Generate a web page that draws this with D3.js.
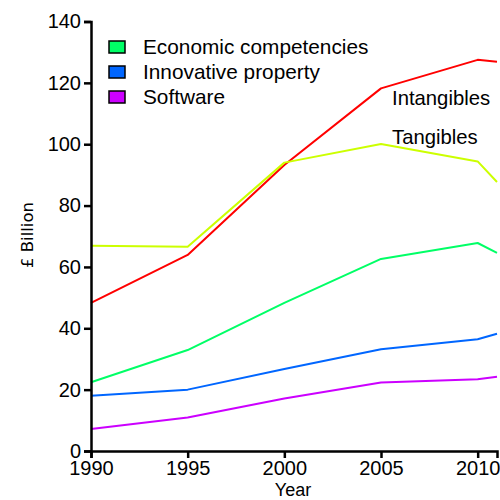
<!DOCTYPE html>
<html>
<head>
<meta charset="utf-8">
<script src="https://cdn.jsdelivr.net/npm/d3@7"></script>
<style>
  html, body { margin: 0; padding: 0; background: #fff; }
  text { font-family: "Liberation Sans", Arial, sans-serif; fill: #000; }
</style>
</head>
<body>
<svg id="chart" width="500" height="500"></svg>
<script>
const years = [1990, 1995, 2000, 2005, 2010, 2011];
const intangibles = [48.3, 63.9, 93.2, 118.2, 127.5, 126.9];
const tangibles = [66.9, 66.6, 94.0, 100.1, 94.4, 87.7];
const economic = [22.4, 32.9, 48.3, 62.6, 67.8, 64.6];
const innovative = [18.0, 20.0, 26.7, 33.2, 36.4, 38.2];
const software = [7.2, 10.9, 17.1, 22.3, 23.4, 24.2];
const xTicks = [1990, 1995, 2000, 2005, 2010];
const yTicks = [0, 20, 40, 60, 80, 100, 120, 140];
const legendNames = ["Economic competencies", "Innovative property", "Software"];

const series = [
  { name: "Intangibles", values: intangibles, color: "#ff0000" },
  { name: "Tangibles", values: tangibles, color: "#ccff00" },
  { name: "Economic competencies", values: economic, color: "#00ff66" },
  { name: "Innovative property", values: innovative, color: "#0066ff" },
  { name: "Software", values: software, color: "#cc00ff" }
];

const svg = d3.select("#chart");
const x = d3.scaleLinear().domain([1990, 2011]).range([91, 497]);
const y = d3.scaleLinear().domain([0, 140]).range([451, 21.5]);

const line = d3.line().x((d, i) => x(years[i])).y(d => y(d));

svg.append("g").selectAll("path").data(series).join("path")
  .attr("d", d => line(d.values))
  .attr("fill", "none")
  .attr("stroke", d => d.color)
  .attr("stroke-width", 2)
  .attr("stroke-linejoin", "round");

// Axes
const yAxis = svg.append("g").attr("transform", `translate(${x(1990)},0)`)
  .call(d3.axisLeft(y).tickValues(yTicks).tickSize(7).tickPadding(3).tickFormat(d3.format("d")));
const xAxis = svg.append("g").attr("transform", `translate(0,${y(0)})`)
  .call(d3.axisBottom(x).tickValues(xTicks).tickSize(7).tickPadding(3).tickFormat(d3.format("d")));
[yAxis, xAxis].forEach(a => {
  a.select(".domain").attr("stroke", "#000").attr("stroke-width", 2.5);
  a.selectAll(".tick line").attr("stroke", "#000").attr("stroke-width", 2.5);
  a.selectAll(".tick text").style("font-size", "20px").style("font-family", "'Liberation Sans', Arial, sans-serif").attr("fill", "#000");
});
yAxis.selectAll(".tick text").attr("dy", "0.32em");

// Axis titles
svg.append("text").attr("transform", "translate(33,235) rotate(-90)")
  .attr("text-anchor", "middle").style("font-family", "'DejaVu Sans', sans-serif")
  .style("font-size", "16.5px").text("£ Billion");
svg.append("text").attr("x", 293).attr("y", 496)
  .attr("text-anchor", "middle").style("font-size", "18px").text("Year");

// Line labels
svg.append("text").attr("x", 392).attr("y", 105).style("font-size", "20.3px").text("Intangibles");
svg.append("text").attr("x", 392).attr("y", 144).style("font-size", "20.3px").text("Tangibles");

// Legend
const leg = svg.append("g");
const legendSeries = legendNames.map(n => series.find(s => s.name === n));
const rows = leg.selectAll("g").data(legendSeries).join("g")
  .attr("transform", (d, i) => `translate(109,${41 + i * 25})`);
rows.append("rect").attr("width", 16).attr("height", 12)
  .attr("fill", d => d.color).attr("stroke", "#000").attr("stroke-width", 1.5);
rows.append("text").attr("x", 34).attr("y", 13).style("font-size", "20.8px").text(d => d.name);
</script>
</body>
</html>
